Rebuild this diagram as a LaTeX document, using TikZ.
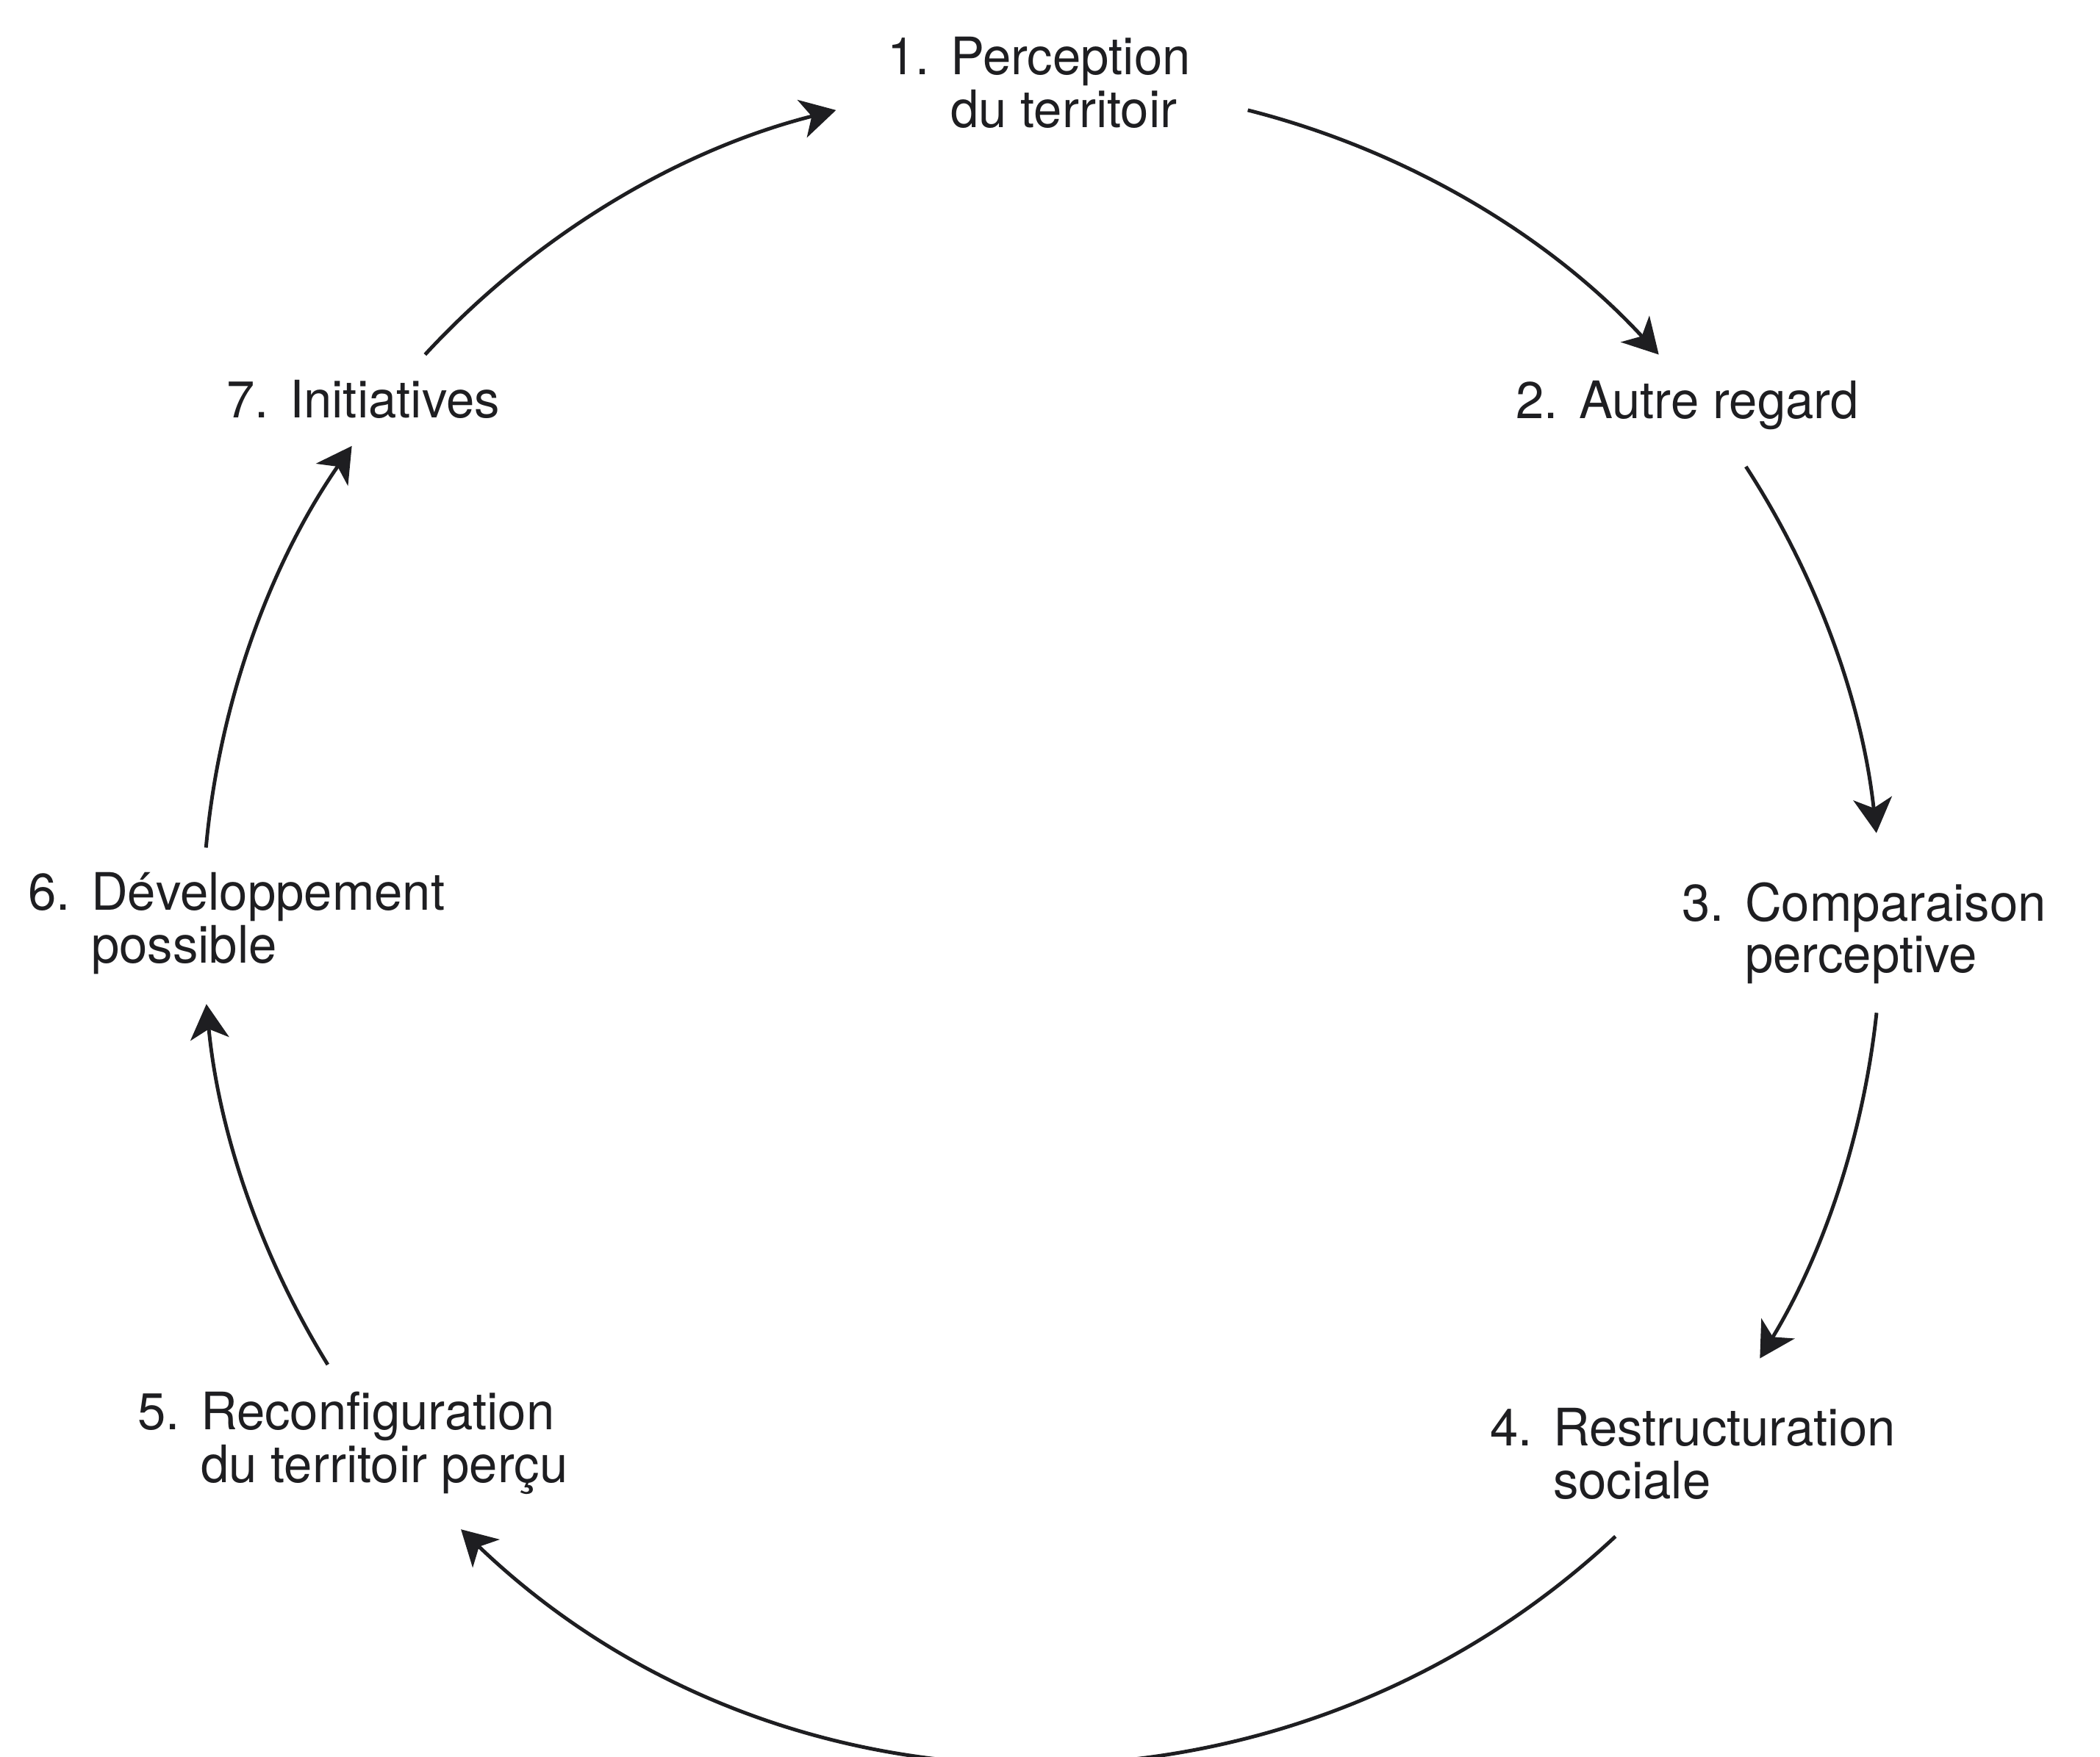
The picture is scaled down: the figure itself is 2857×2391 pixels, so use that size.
\documentclass[tikz,border=0pt]{standalone}
\usepackage{fontspec}
\setmainfont[FakeStretch=0.98]{TeX Gyre Heros}
\usepackage{tikz}
\usetikzlibrary{arrows.meta, positioning, calc}
\definecolor{ink}{RGB}{30,30,33}
\tikzstyle{line} = [draw, -{Stealth[length=13.5pt,width=15pt,inset=3.8pt]}, line width=1.4pt, color=ink]
\tikzstyle{stage} = [anchor=base west, inner sep=0pt, outer sep=0pt, text=ink,
  font=\fontsize{20pt}{19.7pt}\selectfont]
\newcommand{\stagelbl}[3]{\begin{tabular}[t]{@{}p{24.5pt}@{}l@{}}#1 & #2\\ & #3\end{tabular}}

\begin{document}
\begin{tikzpicture}[x=0.1mm, y=0.1mm]
    \useasboundingbox (0,0) rectangle (2857,2391);

    \node [stage] (perception) at (1207,2289) {\stagelbl{1.}{Perception}{du territoir}};
    \node [stage] (regard) at (2062,1821) {\stagelbl{2.}{Autre regard}{}};
    \node [stage] (comparaison) at (2288,1137.5) {\stagelbl{3.}{Comparaison}{perceptive}};
    \node [stage] (restructuration) at (2027,423) {\stagelbl{4.}{Restructuration}{sociale}};
    \node [stage] (reconfiguration) at (187,445) {\stagelbl{5.}{Reconfiguration}{du territoir perçu}};
    \node [stage] (developpement) at (38,1152) {\stagelbl{6.}{Développement}{possible}};
    \node [stage] (initiatives) at (308,1822.5) {\stagelbl{7.}{Initiatives}{}};

    \coordinate (cycle) at (1417.5,1134);
    \coordinate (from1) at ($(cycle)+(75.8:1142)$);
    \coordinate (from2) at ($(cycle)+(33.0:1142)$);
    \coordinate (from3) at ($(cycle)+(-6.1:1142)$);
    \coordinate (from4) at ($(cycle)+(-46.9:1142)$);
    \coordinate (from5) at ($(cycle)+(-148.3:1142)$);
    \coordinate (from6) at ($(cycle)+(174.8:1142)$);
    \coordinate (from7) at ($(cycle)+(137.3:1142)$);

    \path [line] (from1) arc[start angle=75.8, end angle=42.7, radius=1142];
    \path [line] (from2) arc[start angle=33.0, end angle=6.2, radius=1142];
    \path [line] (from3) arc[start angle=-6.1, end angle=-31.2, radius=1142];
    \path [line] (from4) arc[start angle=-46.9, end angle=-133.8, radius=1142];
    \path [line] (from5) arc[start angle=-148.3, end angle=-174.5, radius=1142];
    \path [line] (from6) arc[start angle=174.8, end angle=145.3, radius=1142];
    \path [line] (from7) arc[start angle=137.3, end angle=104.2, radius=1142];

\end{tikzpicture}
\end{document}
